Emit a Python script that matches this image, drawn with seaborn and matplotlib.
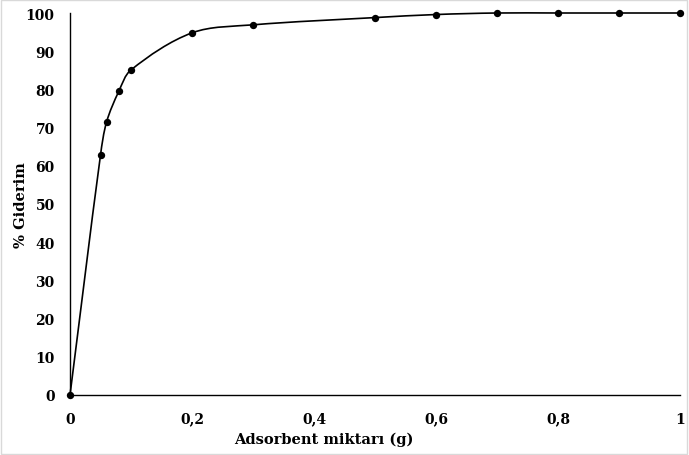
import numpy as np
import pandas as pd
import matplotlib
matplotlib.use("Agg")
import matplotlib.pyplot as plt
import seaborn as sns
from matplotlib.path import Path
from matplotlib.patches import PathPatch, Rectangle

# data
adsorbent_g = [0, 0.05, 0.06, 0.08, 0.1, 0.2, 0.3, 0.5, 0.6, 0.7, 0.8, 0.9, 1.0]
giderim_pct = [0, 62.8, 71.5, 79.5, 85.1, 94.8, 96.9, 98.8, 99.6, 100, 100, 100, 100]
x_ticks = [0, 0.2, 0.4, 0.6, 0.8, 1.0]
x_tick_labels = ["0", "0,2", "0,4", "0,6", "0,8", "1"]
y_ticks = list(range(0, 101, 10))
x_label = "Adsorbent miktarı (g)"
y_label = "% Giderim"

sns.set_theme(style="white")
plt.rcParams['font.family'] = ['DejaVu Serif']
plt.rcParams['font.weight'] = 'bold'
plt.rcParams['text.color'] = 'black'
plt.rcParams['axes.labelcolor'] = 'black'
plt.rcParams['xtick.color'] = 'black'
plt.rcParams['ytick.color'] = 'black'

df = pd.DataFrame({"x": adsorbent_g, "y": giderim_pct})

fig = plt.figure(figsize=(6.89, 4.56), dpi=100)
ax = fig.add_axes([70 / 689, 1 - 396 / 456, 610 / 689, 382 / 456])
ax.set_xlim(0, 1)
ax.set_ylim(0, 100)

# smooth (Excel-like Bezier) connecting line, computed in display space
disp = ax.transData.transform(df[["x", "y"]].to_numpy())
inv = ax.transData.inverted()
n = len(disp)
verts = [tuple(inv.transform(disp[0]))]
codes = [Path.MOVETO]
for i in range(n - 1):
    p0 = disp[i - 1] if i > 0 else disp[i]
    p1 = disp[i]
    p2 = disp[i + 1]
    p3 = disp[i + 2] if i + 2 < n else disp[i + 1]
    d01 = np.linalg.norm(p1 - p0)
    d12 = np.linalg.norm(p2 - p1)
    d23 = np.linalg.norm(p3 - p2)
    c1 = p1 + (p2 - p0) * d12 / (d01 + d12) / 3.0
    c2 = p2 - (p3 - p1) * d12 / (d12 + d23) / 3.0
    for q in (c1, c2, p2):
        verts.append(tuple(inv.transform(q)))
    codes += [Path.CURVE4] * 3
ax.add_patch(PathPatch(Path(verts, codes), facecolor="none", edgecolor="black",
                       lw=1.2, zorder=2, clip_on=False))

sns.scatterplot(data=df, x="x", y="y", ax=ax, color="black", s=28,
                edgecolor="black", linewidth=0, zorder=3, clip_on=False)

ax.set_xlim(0, 1)
ax.set_ylim(0, 100)
ax.set_xticks(x_ticks)
ax.set_xticklabels(x_tick_labels)
ax.set_yticks(y_ticks)
ax.tick_params(axis="x", direction="in", length=5, width=1, colors="black",
               labelcolor="black", labelsize=10, pad=12)
ax.tick_params(axis="y", direction="out", length=5, width=1, colors="black",
               labelcolor="black", labelsize=10, pad=6)
for lab in ax.get_xticklabels() + ax.get_yticklabels():
    lab.set_fontweight("bold")

for side in ["top", "right"]:
    ax.spines[side].set_visible(False)
for side in ["left", "bottom"]:
    ax.spines[side].set_color("black")
    ax.spines[side].set_linewidth(1.0)

ax.set_xlabel(x_label, fontsize=10.5, fontweight="bold", color="black")
ax.xaxis.set_label_coords((324 - 70) / 610, (396 - 440) / 382)
ax.xaxis.label.set_verticalalignment("center")
ax.set_ylabel(y_label, fontsize=10.5, fontweight="bold", color="black")
ax.yaxis.set_label_coords((21 - 70) / 610, 0.5)
ax.yaxis.label.set_verticalalignment("center")

fig.patches.append(Rectangle((0.002, 0.003), 0.995, 0.994, transform=fig.transFigure,
                             fill=False, edgecolor="#d9d9d9", lw=1.0))

fig.savefig("out.png", dpi=100)
